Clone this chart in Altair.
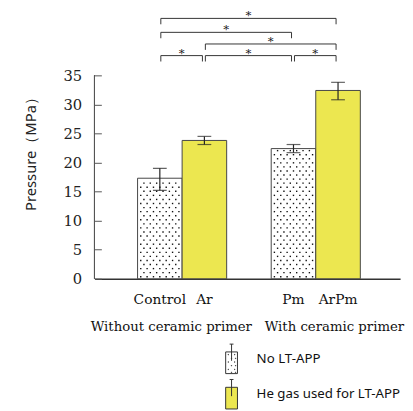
import altair as alt
import pandas as pd

# ---------------- data ----------------
categories = ["Control", "Ar", "Pm", "ArPm"]
series = ["No LT-APP", "He gas used for LT-APP", "No LT-APP", "He gas used for LT-APP"]
pressure = [17.3, 23.8, 22.4, 32.4]
err_low = [15.2, 23.1, 21.7, 30.8]
err_high = [19.0, 24.5, 23.1, 33.8]

x_domain = ["Control", "Ar", "gap", "Pm", "ArPm"]
series_domain = ["No LT-APP", "He gas used for LT-APP"]

group_labels = ["Without ceramic primer", "With ceramic primer"]
group_anchor = ["Ar", "ArPm"]

bracket_from = ["Control", "Ar", "Pm", "Ar", "Control", "Control"]
bracket_to = ["Ar", "Pm", "ArPm", "ArPm", "Pm", "ArPm"]
bracket_level = [38.4, 38.4, 38.4, 40.4, 42.4, 44.8]
bracket_mark = ["*", "*", "*", "*", "*", "*"]

y_ticks = [0, 5, 10, 15, 20, 25, 30, 35]

bars = pd.DataFrame({"cat": categories, "series": series, "value": pressure,
                     "lo": err_low, "hi": err_high})
brackets = pd.DataFrame({"from": bracket_from, "to": bracket_to,
                         "level": bracket_level, "mark": bracket_mark})
groups = pd.DataFrame({"label": group_labels, "cat": group_anchor})

# ---------------- styles ----------------
YELLOW = "#ECE750"
EDGE = "#444444"
SERIF = "DejaVu Serif"
SANS = "Noto Sans"
W, H = 311, 207


def legend_path(dotted):
    p = "M-0.4,-0.47L0.4,-0.47L0.4,1L-0.4,1Z"
    if dotted:
        ys = [-0.3, -0.05, 0.2, 0.45, 0.7, 0.9]
        for i, yy in enumerate(ys):
            xs = [-0.24, 0.2] if i % 2 == 0 else [-0.02, 0.26]
            for xx in xs:
                p += f"M{xx},{yy}h0.03v0.03h-0.03Z"
    p += "M0,-1L0,0.13M-0.13,-1L0.13,-1"
    return p


x_scale = alt.Scale(domain=x_domain, paddingInner=0, paddingOuter=0.93, align=0.52)
y_scale = alt.Scale(domain=[0, 35], nice=False, zero=True)

x_axis = alt.Axis(title=None, ticks=False, domainColor="#333333", domainWidth=1.5,
                  labelFont=SERIF, labelFontSize=14, labelPadding=14, labelColor="#111111",
                  labelAngle=0, labelExpr="datum.value == 'gap' ? '' : datum.value")
y_axis = alt.Axis(values=y_ticks, domain=False, offset=-7, tickSize=7, tickColor="#555555",
                  labelPadding=13, labelFont=SERIF, labelFontSize=15, labelColor="#222222",
                  title="Pressure（MPa）", titleFont=SANS, titleFontSize=15,
                  titleFontWeight="normal", titleColor="#222222", titleX=-72, titleY=76,
                  titleBaseline="middle", grid=False)

fill_scale = alt.Scale(domain=series_domain, range=["white", YELLOW])
stroke_scale = alt.Scale(domain=series_domain, range=["#333333", "#333333"])
shape_scale = alt.Scale(domain=series_domain, range=[legend_path(True), legend_path(False)])

legend = alt.Legend(title=None, orient="none", legendX=124, legendY=273, symbolSize=900,
                    labelFont=SANS, labelFontSize=13.5, labelColor="#111111", labelOffset=10,
                    rowPadding=1, symbolStrokeWidth=1,
                    symbolOpacity=1, padding=0, labelLimit=300)

X = lambda f, **k: alt.X(f, type="nominal", scale=x_scale, axis=x_axis, sort=x_domain, **k)
Y = lambda f: alt.Y(f, type="quantitative", scale=y_scale, axis=y_axis)

# legend carrier, hidden behind the bars
legend_layer = alt.Chart(bars).transform_calculate(mid="datum.value / 2").mark_point(
    filled=True, size=900, strokeWidth=1, opacity=1
).encode(
    x=X("cat"), y=Y("mid"),
    shape=alt.Shape("series:N", scale=shape_scale, legend=legend),
    fill=alt.Fill("series:N", scale=fill_scale, legend=legend),
    stroke=alt.Stroke("series:N", scale=stroke_scale, legend=legend),
)

bar_layer = alt.Chart(bars).mark_bar(stroke=EDGE, strokeWidth=1, opacity=1).encode(
    x=X("cat"), y=Y("value"),
    fill=alt.Fill("series:N", scale=fill_scale, legend=None),
)

# dotted texture of the "No LT-APP" bars
dots = alt.Chart(bars).transform_filter(
    "datum.series == 'No LT-APP'"
).transform_calculate(
    rows="sequence(0, floor(datum.value / 0.7) + 1)", cols="sequence(0, 7)"
).transform_flatten(["rows"]).transform_flatten(["cols"]).transform_calculate(
    yy="datum.rows * 0.7 + 0.35", h="2 * datum.cols + (datum.rows % 2)"
).transform_filter("datum.yy < datum.value - 0.3 && datum.h <= 12").mark_square(
    size=2, color="#111111", opacity=1
).encode(
    x=alt.value({"expr": "scale('x', datum.cat) + bandwidth('x') * (datum.h + 1) / 14"}),
    y=Y("yy"),
)

err_rule = alt.Chart(bars).mark_rule(color="#222222", strokeWidth=1.2).encode(
    x=X("cat"), y=Y("lo"), y2="hi")
cap_lo = alt.Chart(bars).mark_tick(color="#222222", size=14, thickness=1.2).encode(
    x=X("cat"), y=Y("lo"))
cap_hi = alt.Chart(bars).mark_tick(color="#222222", size=14, thickness=1.2).encode(
    x=X("cat"), y=Y("hi"))

# y axis line (ticks point inward)
y_line = alt.Chart(bars).mark_rule(color="#555555", strokeWidth=1).encode(
    x=alt.value(0), y=alt.datum(0, scale=y_scale, axis=y_axis), y2=alt.datum(35))

# significance brackets
br_h = alt.Chart(brackets).mark_rule(color="#333333", strokeWidth=1, xOffset=1, x2Offset=-2).encode(
    x=X("from"), x2="to", y=Y("level"))
br_l = alt.Chart(brackets).mark_rule(color="#333333", strokeWidth=1, xOffset=1, y2Offset=6).encode(
    x=X("from"), y=Y("level"), y2="level")
br_r = alt.Chart(brackets).mark_rule(color="#333333", strokeWidth=1, xOffset=-2, y2Offset=6).encode(
    x=X("to"), y=Y("level"), y2="level")
stars = alt.Chart(brackets).mark_text(font=SERIF, fontSize=12, color="#222222", dy=1,
                                      baseline="alphabetic").encode(
    x=alt.value({"expr": "(scale('x', datum['from']) + scale('x', datum['to']) + bandwidth('x')) / 2 - 0.5"}),
    y=Y("level"), text="mark:N")

grp_layers = []
for lab, dx in zip(group_labels, [-11, 19]):
    grp_layers.append(
        alt.Chart(groups).transform_filter(alt.datum.label == lab).mark_text(
            font=SERIF, fontSize=13.5, color="#111111", baseline="alphabetic", dx=dx
        ).encode(x=X("cat", bandPosition=0), y=alt.value(260), text="label:N")
    )

chart = alt.layer(
    legend_layer, bar_layer, dots, err_rule, cap_lo, cap_hi, y_line,
    br_h, br_l, br_r, stars, *grp_layers
).properties(
    width=W, height=H,
    autosize=alt.AutoSizeParams(type="none"),
    padding={"left": 88, "top": 65, "right": 5, "bottom": 130},
).configure_view(stroke=None).configure_axis(grid=False)

chart.save("out.html", embed_options={"renderer": "svg", "actions": False})
